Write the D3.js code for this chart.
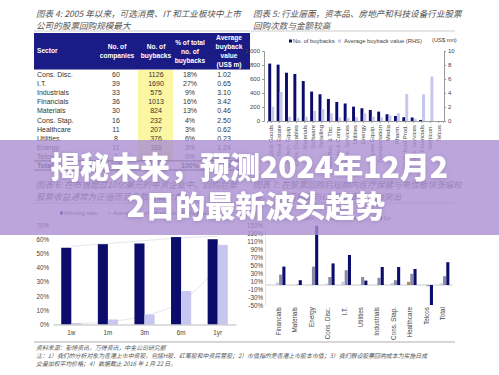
<!DOCTYPE html>
<html>
<head>
<meta charset="utf-8">
<script src="https://cdn.jsdelivr.net/npm/d3@7"></script>
<style>
  body { margin: 0; background: #fff; }
  svg { display: block; }
  text { font-family: "Liberation Sans", Arial, sans-serif; }
  .cn { font-family: "Noto Sans CJK SC", sans-serif; font-style: italic; fill: #555; }
</style>
</head>
<body>
<div id="chart"></div>
<script>
// table (figure 4)
const sectors = [`Cons. Disc.`, `I.T.`, `Industrials`, `Financials`, `Materials`, `Cons. Stap.`, `Healthcare`, `Utilities`, `Energy`, `Telco`];
const companies = [60, 39, 33, 36, 30, 16, 11, 8, 11, 1];
const buybacks = [1126, 1690, 575, 1013, 824, 232, 207, 376, 188, 6];
const shareOfTotal = [`18%`, `27%`, `9%`, `16%`, `13%`, `4%`, `3%`, `6%`, `3%`, `0%`];
const avgValue = [`1.02`, `0.65`, `3.10`, `3.42`, `0.46`, `2.50`, `0.62`, `0.23`, `1.24`, `0.21`];
const totalRow = [`Total`, `245`, `6237`, `100%`, `1.59`];

// figure 5
const industries = [`Capital Goods`, `Real Estate`, `Tech. Equip.`, `Cons. Durables`, `Materials`, `Software`, `Retailing`, `Food Bev. & Tbc.`, `Auto & Comp.`, `Comm. Services`, `Utilities`, `Energy`, `Healthcare Equip.`, `Transportation`, `Media`, `Pharm.`, `Household Prod.`, `Cons. Services`, `Div. Financials`, `Semicon.`, `Telcos`];
const buybackCount = [820, 805, 690, 672, 571, 420, 382, 315, 272, 250, 205, 182, 158, 134, 96, 72, 54, 50, 15, 0, 0];
const avgBuyback = [2.05, 4.15, 0.6, 0.45, 0.6, 1.45, 1.7, 1.1, 0.5, 0.45, 0.55, 1.1, 0.6, 0.5, 0.8, 1.1, 3.85, 0.3, 3.8, 6.35, 0];

// figure 6
const periods = [`1w`, `1m`, `3m`, `6m`, `1yr`];
const winningRatio = [54, 56.5, 57, 61.5, 60];
const avgReturn = [1, 3.5, 7, 23.5, 56];
const upperTrend = [55, 57, 59, 61, 62];
const lowerTrend = [0.5, 2, 6, 16, 40];

// figure 7
const retSectors = [`Financials`, `Materials`, `Energy`, `Cons. Disc.`, `I.T.`, `Utilities`, `Industrials`, `Cons. Stap.`, `Healthcare`, `Telcos`, `Total`];
const retSeries = [`1m`, `3m`, `6m`, `1yr`];
const ret1m = [2, 0, 0, 1, 2, 0, 0, 2, 3, 2, 1];
const ret3m = [6, 0, 1, 3, 8, 1, 1, 5, 8, 0, 4];
const ret6m = [26, 1, 46, 20, 37, 20, 18, 12, 28, -3, 22];
const ret1yr = [46, 12, 148, 54, 75, 11, 45, 45, 40, -50, 57];
const retTicks = [-50, -30, -10, 10, 30, 50, 70, 90, 110, 130, 150];

const navy = `#0c0c6c`;
const lav = `#c6c6ee`;

const svg = d3.select(`#chart`).append(`svg`).attr(`width`, 499).attr(`height`, 375);
svg.append(`rect`).attr(`width`, 499).attr(`height`, 375).attr(`fill`, `#fff`);

function titleLines(x, y, lines) {
  lines.forEach((t, i) => {
    svg.append(`text`).attr(`class`, `cn`).attr(`x`, x).attr(`y`, y + i * 11.5)
      .style(`font-size`, `8.6px`).text(t);
  });
}

// ---------- figure 4 table ----------
titleLines(36, 17, [`图表 4: 2005 年以来，可选消费、IT 和工业板块中上市`, `公司的股票回购规模最大`]);
svg.append(`line`).attr(`x1`, 34).attr(`x2`, 250).attr(`y1`, 31).attr(`y2`, 31).attr(`stroke`, `#ccc`);

const tbl = svg.append(`g`);
tbl.append(`rect`).attr(`x`, 34).attr(`y`, 33).attr(`width`, 216).attr(`height`, 36.5).attr(`fill`, `#1b1b86`);
const headers = [
  { x: 37, anchor: `start`, lines: [`Sector`], y0: 53 },
  { x: 117, anchor: `middle`, lines: [`No. of`, `companies`], y0: 49 },
  { x: 156, anchor: `middle`, lines: [`No. of`, `buybacks`], y0: 49 },
  { x: 190, anchor: `middle`, lines: [`% of total`, `no. of`, `buybacks`], y0: 45 },
  { x: 229, anchor: `middle`, lines: [`Average`, `buyback`, `value`, `(US$ m)`], y0: 40 },
];
headers.forEach((h) => {
  h.lines.forEach((t, i) => {
    tbl.append(`text`).attr(`x`, h.x).attr(`y`, h.y0 + i * 9).attr(`text-anchor`, h.anchor)
      .attr(`fill`, `#fff`).style(`font-size`, `6.6px`).style(`font-weight`, `bold`).text(t);
  });
});

const rowY = d3.scaleBand().domain([...sectors, `Total`]).range([70, 170]);
tbl.append(`rect`).attr(`x`, 138).attr(`y`, 70).attr(`width`, 35).attr(`height`, rowY(`Total`) - 70).attr(`fill`, `#fbf6a2`);
const colX = [37, 116, 156, 190, 224];
const rows = sectors.map((s, i) => [s, companies[i], buybacks[i], shareOfTotal[i], avgValue[i]]);
rows.push(totalRow);
rows.forEach((r) => {
  const y = rowY(r[0]) + rowY.bandwidth() / 2 + 2.5;
  r.forEach((v, j) => {
    tbl.append(`text`).attr(`x`, colX[j]).attr(`y`, y).attr(`text-anchor`, j === 0 ? `start` : `middle`)
      .attr(`fill`, `#333`).style(`font-size`, `7px`).style(`font-weight`, r[0] === `Total` ? `bold` : `normal`).text(v);
  });
});
tbl.append(`line`).attr(`x1`, 34).attr(`x2`, 250).attr(`y1`, rowY(`Total`)).attr(`y2`, rowY(`Total`)).attr(`stroke`, `#333`);
tbl.append(`line`).attr(`x1`, 34).attr(`x2`, 250).attr(`y1`, rowY(`Total`) + rowY.bandwidth()).attr(`y2`, rowY(`Total`) + rowY.bandwidth()).attr(`stroke`, `#333`);

// ---------- figure 5 ----------
titleLines(253, 17, [`图表 5: 行业层面，资本品、房地产和科技设备行业股票`, `回购次数与金额较高`]);
svg.append(`line`).attr(`x1`, 251).attr(`x2`, 455).attr(`y1`, 31).attr(`y2`, 31).attr(`stroke`, `#ccc`);

const f5 = svg.append(`g`);
const x5 = d3.scaleBand().domain(industries).range([267, 443]).paddingInner(0.3).paddingOuter(0.15);
const x5s = d3.scaleBand().domain([`n`, `v`]).range([0, x5.bandwidth()]);
const y5L = d3.scaleLinear().domain([0, 1000]).range([121, 51]);
const y5R = d3.scaleLinear().domain([0, 10]).range([121, 51]);

f5.selectAll(`.bn`).data(buybackCount).join(`rect`)
  .attr(`x`, (d, i) => x5(industries[i]) + x5s(`n`)).attr(`width`, x5s.bandwidth())
  .attr(`y`, (d) => y5L(d)).attr(`height`, (d) => 121 - y5L(d)).attr(`fill`, navy);
f5.selectAll(`.bv`).data(avgBuyback).join(`rect`)
  .attr(`x`, (d, i) => x5(industries[i]) + x5s(`v`)).attr(`width`, x5s.bandwidth())
  .attr(`y`, (d) => y5R(d)).attr(`height`, (d) => 121 - y5R(d)).attr(`fill`, lav);

const axL = f5.append(`g`).attr(`transform`, `translate(264,0)`)
  .call(d3.axisLeft(y5L).tickValues([0, 200, 400, 600, 800, 1000]).tickSize(2).tickPadding(2));
const axR = f5.append(`g`).attr(`transform`, `translate(444,0)`)
  .call(d3.axisRight(y5R).tickValues([0, 2, 4, 6, 8, 10]).tickSize(2).tickPadding(2));
const axB = f5.append(`g`).attr(`transform`, `translate(0,121)`)
  .call(d3.axisBottom(x5).tickSize(2).tickPadding(2));
axB.selectAll(`text`).attr(`transform`, `rotate(-90)`).attr(`text-anchor`, `end`)
  .attr(`x`, -4).attr(`y`, 0).attr(`dy`, `0.32em`);
[axL, axR, axB].forEach((a) => {
  a.selectAll(`path, line`).attr(`stroke`, `#999`);
  a.selectAll(`text`).attr(`fill`, `#444`).style(`font-size`, `6px`).style(`font-family`, `Liberation Sans`);
});
f5.append(`rect`).attr(`x`, 289).attr(`y`, 39.5).attr(`width`, 3).attr(`height`, 3).attr(`fill`, navy);
f5.append(`text`).attr(`x`, 293).attr(`y`, 42.7).attr(`fill`, `#444`).style(`font-size`, `5.8px`).text(`No. of buybacks`);
f5.append(`rect`).attr(`x`, 338).attr(`y`, 39.5).attr(`width`, 3).attr(`height`, 3).attr(`fill`, lav);
f5.append(`text`).attr(`x`, 344).attr(`y`, 42.7).attr(`fill`, `#444`).style(`font-size`, `5.8px`).text(`Average buyback value (RHS)`);
f5.append(`text`).attr(`x`, 432).attr(`y`, 41.5).attr(`fill`, `#444`).style(`font-size`, `5.8px`).text(`(US$ mn)`);

// ---------- figure 6 ----------
titleLines(36, 188, [`图表 6: 在市值超过10亿美元的中资企业中，回购后第`, `股票收益通常为正值而且多数跑赢大市`]);
svg.append(`line`).attr(`x1`, 34).attr(`x2`, 250).attr(`y1`, 203).attr(`y2`, 203).attr(`stroke`, `#ccc`);

const f6 = svg.append(`g`);
const x6 = d3.scaleBand().domain(periods).range([53, 236]).paddingInner(0.45).paddingOuter(0.225);
const x6s = d3.scaleBand().domain([`w`, `a`]).range([0, x6.bandwidth()]);
const y6 = d3.scaleLinear().domain([0, 70]).range([324.5, 225]);

const trend = d3.line().x((d, i) => x6(periods[i]) + x6.bandwidth() / 2).y((d) => y6(d)).curve(d3.curveMonotoneX);
f6.append(`path`).attr(`d`, trend(upperTrend)).attr(`fill`, `none`).attr(`stroke`, `#e6e6ee`).attr(`stroke-width`, 1);
f6.append(`path`).attr(`d`, trend(lowerTrend)).attr(`fill`, `none`).attr(`stroke`, `#e6e6ee`).attr(`stroke-width`, 1);

f6.selectAll(`.w`).data(winningRatio).join(`rect`)
  .attr(`x`, (d, i) => x6(periods[i]) + x6s(`w`)).attr(`width`, x6s.bandwidth())
  .attr(`y`, (d) => y6(d)).attr(`height`, (d) => y6(0) - y6(d)).attr(`fill`, navy);
f6.selectAll(`.a`).data(avgReturn).join(`rect`)
  .attr(`x`, (d, i) => x6(periods[i]) + x6s(`a`)).attr(`width`, x6s.bandwidth())
  .attr(`y`, (d) => y6(d)).attr(`height`, (d) => y6(0) - y6(d)).attr(`fill`, lav);

const ax6L = f6.append(`g`).attr(`transform`, `translate(51,0)`)
  .call(d3.axisLeft(y6).tickValues(d3.range(0, 71, 10)).tickFormat((d) => d + `%`).tickSize(0).tickPadding(2));
ax6L.select(`.domain`).remove();
const ax6B = f6.append(`g`).attr(`transform`, `translate(0,324.5)`)
  .call(d3.axisBottom(x6).tickSize(0).tickPadding(6));
ax6B.select(`.domain`).attr(`stroke`, `#bbb`);
[ax6L, ax6B].forEach((a) => {
  a.selectAll(`text`).attr(`fill`, `#444`).style(`font-size`, `6.3px`).style(`font-family`, `Liberation Sans`);
});
f6.append(`rect`).attr(`x`, 60).attr(`y`, 211.5).attr(`width`, 3).attr(`height`, 3).attr(`fill`, navy);
f6.append(`text`).attr(`x`, 64).attr(`y`, 214.7).attr(`fill`, `#444`).style(`font-size`, `5.8px`).text(`Winning ratio`);
f6.append(`rect`).attr(`x`, 108).attr(`y`, 212.5).attr(`width`, 3).attr(`height`, 1.5).attr(`fill`, `#bbb`);
f6.append(`text`).attr(`x`, 113).attr(`y`, 214.7).attr(`fill`, `#444`).style(`font-size`, `5.8px`).text(`Average return of stocks with buyback`);

// ---------- figure 7 ----------
titleLines(253, 188, [`图表 7: 在股票回购后短期内医疗保健与电信板块涨幅较`, `高，一年后能源与I.T.板块表现较为突出`]);
svg.append(`line`).attr(`x1`, 251).attr(`x2`, 455).attr(`y1`, 203).attr(`y2`, 203).attr(`stroke`, `#ccc`);

const f7 = svg.append(`g`);
const x7 = d3.scaleBand().domain(retSectors).range([271, 451]).paddingInner(0.22).paddingOuter(0.1);
const x7s = d3.scaleBand().domain(retSeries).range([0, x7.bandwidth()]).paddingInner(0.05);
const y7 = d3.scaleLinear().domain([-50, 150]).range([305, 225]);
const seriesVals = [ret1m, ret3m, ret6m, ret1yr];
const seriesCol = [`#e4e4f4`, `#c8c8e8`, `#8a8aa8`, navy];
const highlightSector = `Healthcare`;

f7.append(`line`).attr(`x1`, 265).attr(`x2`, 452).attr(`y1`, y7(0)).attr(`y2`, y7(0)).attr(`stroke`, `#ccc`);
seriesVals.forEach((vals, s) => {
  f7.selectAll(`.s${s}`).data(vals).join(`rect`)
    .attr(`x`, (d, i) => x7(retSectors[i]) + x7s(retSeries[s])).attr(`width`, x7s.bandwidth())
    .attr(`y`, (d) => y7(Math.max(0, d))).attr(`height`, (d) => Math.abs(y7(d) - y7(0)))
    .attr(`fill`, (d, i) => (s === 1 && retSectors[i] === highlightSector ? `#c08a3a` : seriesCol[s]));
});
const ax7L = f7.append(`g`).attr(`transform`, `translate(265,0)`)
  .call(d3.axisLeft(y7).tickValues(retTicks).tickFormat((d) => d + `%`).tickSize(0).tickPadding(2));
ax7L.select(`.domain`).attr(`stroke`, `#e4e4e4`);
const ax7B = f7.append(`g`).attr(`transform`, `translate(0,305)`)
  .call(d3.axisBottom(x7).tickSize(0));
ax7B.select(`.domain`).remove();
ax7B.selectAll(`text`).attr(`transform`, `rotate(-90)`).attr(`text-anchor`, `end`)
  .attr(`x`, -2).attr(`y`, 0).attr(`dy`, `0.32em`);
[ax7L, ax7B].forEach((a) => {
  a.selectAll(`text`).attr(`fill`, `#444`).style(`font-size`, `6.3px`).style(`font-family`, `Liberation Sans`);
});
retSeries.forEach((s, i) => {
  const lx = 301 + i * 26;
  f7.append(`rect`).attr(`x`, lx).attr(`y`, 216.5).attr(`width`, 3).attr(`height`, 3).attr(`fill`, seriesCol[i]);
  f7.append(`text`).attr(`x`, lx + 4).attr(`y`, 219.7).attr(`fill`, `#444`).style(`font-size`, `5.8px`).text(s);
});

// ---------- footnotes ----------
svg.append(`line`).attr(`x1`, 34).attr(`x2`, 455).attr(`y1`, 342).attr(`y2`, 342).attr(`stroke`, `#cfc8c8`).attr(`stroke-width`, 1.6);
const notes = [
  `资料来源：彭博资讯，万得资讯，中金公司研究部`,
  `注：1）我们的分析对象为香港上市中资股，包括H股、红筹股和中资民营股；2）市值指的是香港上市股本市值；3）我们假设股票回购成本为实施日成`,
  `交量加权平均价格；4）数据截止 2016 年 1 月 22 日。`,
];
notes.forEach((t, i) => {
  svg.append(`text`).attr(`class`, `cn`).attr(`x`, 36).attr(`y`, 350 + i * 7.8)
    .style(`font-size`, `5.9px`).text(t);
});

// ---------- overlay banner ----------
svg.append(`rect`).attr(`x`, 0).attr(`y`, 140).attr(`width`, 499).attr(`height`, 95)
  .attr(`fill`, `rgb(170,143,210)`).attr(`opacity`, 0.8);
const defs = svg.append(`defs`);
defs.append(`filter`).attr(`id`, `sh`).attr(`x`, `-10%`).attr(`y`, `-30%`).attr(`width`, `120%`).attr(`height`, `160%`)
  .append(`feDropShadow`).attr(`dx`, 0).attr(`dy`, 1).attr(`stdDeviation`, 2)
  .attr(`flood-color`, `#6a5a8a`).attr(`flood-opacity`, 0.35);
const heads = [
  { t: `揭秘未来，预测2024年12月2`, x: 249, y: 178 },
  { t: `2日的最新波头趋势`, x: 256, y: 217 },
];
heads.forEach((h) => {
  svg.append(`text`).attr(`x`, h.x).attr(`y`, h.y).attr(`text-anchor`, `middle`)
    .attr(`fill`, `#fff`).attr(`filter`, `url(#sh)`)
    .style(`font-family`, `"Noto Sans CJK SC", sans-serif`).style(`font-weight`, `900`)
    .style(`font-size`, `30px`).text(h.t);
});
</script>
</body>
</html>
